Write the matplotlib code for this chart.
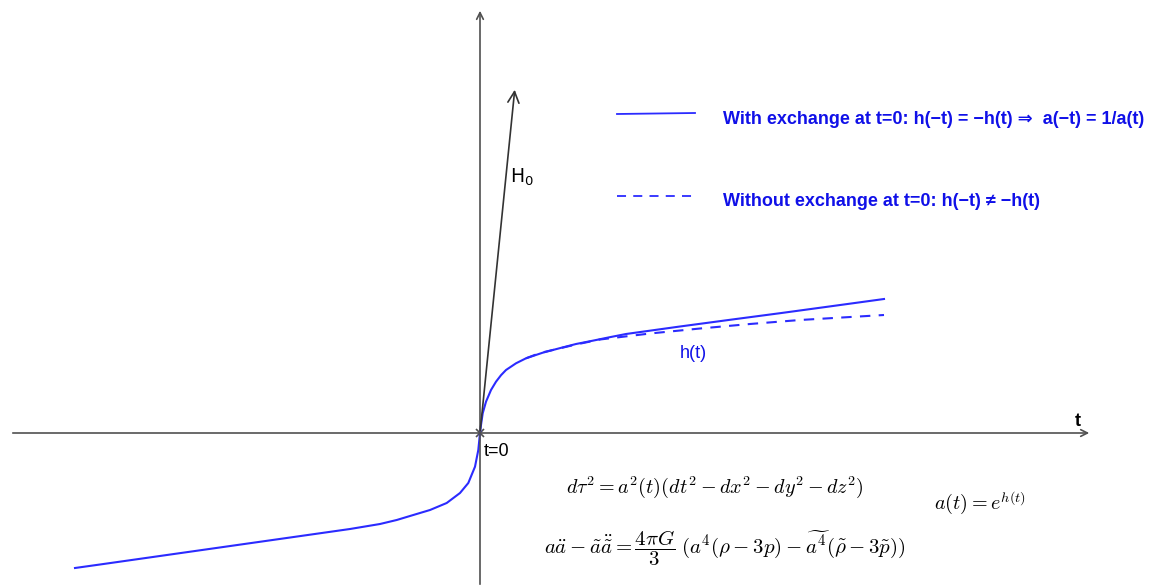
import numpy as np
import matplotlib.pyplot as plt

# h(t), origin at t=0 (units = pixels of the original)
t_pos = [0, 1, 2.7, 6, 11, 16, 21, 26, 36, 46, 62.7, 79.3, 96, 112.7, 129.3, 146,
         200, 250, 300, 350, 404]
h_pos = [0, 8, 19.7, 31.3, 43, 51.3, 57.8, 63, 69.7, 74.7, 80.3, 84.7, 89, 92.3, 95.7, 99,
         106.5, 113.2, 119.8, 126.6, 134]

t_neg = [-405, -380, -330, -280, -230, -180, -130, -100, -83.3, -66.7, -50, -33.3,
         -20, -11.7, -5, -1.7, 0]
h_neg = [-135, -131.5, -124.4, -117.3, -110.2, -103.1, -96, -91, -87, -82, -77, -70,
         -60, -50, -33.7, -17, 0]

t_dash = [46, 60, 96, 120, 170, 220, 270, 320, 404]
h_dash = [74.7, 80, 88.5, 93.5, 99.5, 104.5, 109, 113, 118]

legend_solid = "With exchange at t=0: h(\u2212t) = \u2212h(t) \u21d2  a(\u2212t) = 1/a(t)"
legend_dash = "Without exchange at t=0: h(\u2212t) \u2260 \u2212h(t)"

blue = '#2b2bff'
txt_blue = '#1010e8'
grey = '#505050'
fonts = ['Liberation Sans', 'DejaVu Sans']

fig = plt.figure(figsize=(11.63, 5.87), dpi=100)
ax = fig.add_axes([0, 0, 1, 1])
ax.set_xlim(-480, 683)
ax.set_ylim(-154, 433)
ax.axis('off')

# axes with open arrow heads
ax.annotate('', xy=(612, 0), xytext=(-470, 0),
            arrowprops=dict(arrowstyle='->', color=grey, lw=1.2, mutation_scale=12))
ax.annotate('', xy=(0, 425), xytext=(0, -154),
            arrowprops=dict(arrowstyle='->', color=grey, lw=1.2, mutation_scale=12))
ax.plot([0], [0], marker='x', color=grey, ms=6, mew=1.2)

# H0 vector
ax.annotate('', xy=(35, 346), xytext=(0, 0),
            arrowprops=dict(arrowstyle='->', color='#333333', lw=1.2, mutation_scale=20))
ax.text(30, 256, 'H$_0$', fontsize=13.5, color='black', ha='left', va='center')

# curves
ax.plot(t_pos, h_pos, color=blue, lw=1.5)
ax.plot(t_neg, h_neg, color=blue, lw=1.5)
ax.plot(t_dash, h_dash, color=blue, lw=1.5, ls=(0, (5, 4)))

# legend
ax.plot([137, 215], [319, 320], color=blue, lw=1.3)
ax.plot([137, 212], [237, 237], color=blue, lw=1.3, ls=(0, (5, 4)))
ax.text(243, 313, legend_solid, fontsize=13, color=txt_blue, fontweight='bold',
        family=fonts, ha='left', va='center')
ax.text(243, 231, legend_dash, fontsize=13, color=txt_blue, fontweight='bold',
        family=fonts, ha='left', va='center')

# labels
ax.text(200, 80, 'h(t)', fontsize=13, color=txt_blue, family=fonts,
        ha='left', va='center')
ax.text(598, 11, 't', fontsize=13, color='black', family=fonts,
        fontweight='bold', ha='center', va='center')
ax.text(4, -19, 't=0', fontsize=13, color='black', family=fonts,
        ha='left', va='center')

# equations
ax.text(234.5, -54, r'$d\tau^2 = a^2(t)(dt^2 - dx^2 - dy^2 - dz^2)$',
        fontsize=14.5, math_fontfamily='cm', ha='center', va='center')
ax.text(245, -115, r'$a\ddot{a} - \tilde{a}\ddot{\tilde{a}} = \dfrac{4\pi G}{3}\;(a^4(\rho - 3p) - \widetilde{a^4}(\tilde{\rho} - 3\tilde{p}))$',
        fontsize=15, math_fontfamily='cm', ha='center', va='center')
ax.text(500, -70, r'$a(t) = e^{h(t)}$', fontsize=14.5, math_fontfamily='cm',
        ha='center', va='center')

fig.savefig('out.png', dpi=100)
